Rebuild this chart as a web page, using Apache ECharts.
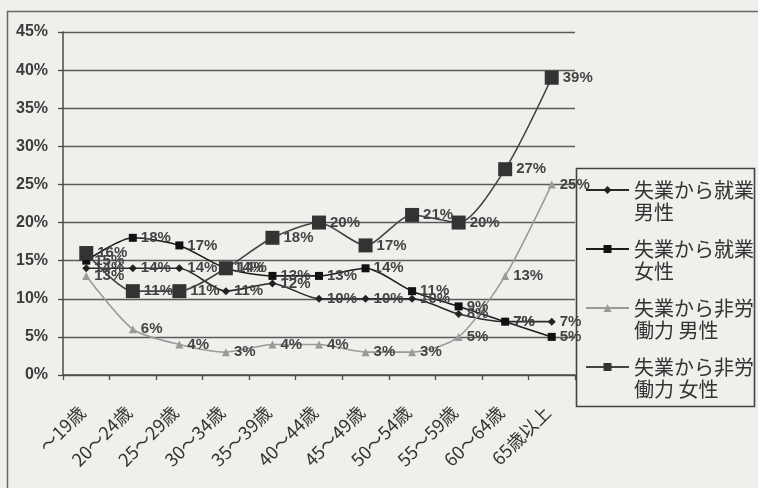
<!DOCTYPE html>
<html>
<head>
<meta charset="utf-8">
<style>
  html, body { margin: 0; padding: 0; background: #efefec; }
  #chart { width: 758px; height: 488px; }
</style>
<script src="https://cdn.jsdelivr.net/npm/echarts@6/dist/echarts.min.js"></script>
</head>
<body>
<div id="chart"></div>
<script>
// Age groups along the x axis
const categories = ['～19歳', '20～24歳', '25～29歳', '30～34歳', '35～39歳', '40～44歳',
  '45～49歳', '50～54歳', '55～59歳', '60～64歳', '65歳以上'];

// Series names as shown in the legend (wrapped onto two lines)
const seriesNames = ['失業から就業\n男性', '失業から就業\n女性', '失業から非労\n働力 男性', '失業から非労\n働力 女性'];

// Transition rates (%) by age group
const jobMale        = [14, 14, 14, 11, 12, 10, 10, 10, 8, 7, 7];
const jobFemale      = [15, 18, 17, 14, 13, 13, 14, 11, 9, 7, 5];
const nonLaborMale   = [13, 6, 4, 3, 4, 4, 3, 3, 5, 13, 25];
const nonLaborFemale = [16, 11, 11, 14, 18, 20, 17, 21, 20, 27, 39];

// Y axis range (%)
const yMin = 0, yMax = 45, yStep = 5;

const numFont = 'Liberation Sans, Arial, sans-serif';
const jpFont = '"Noto Sans CJK JP", sans-serif';

const labelStyle = {
  show: true,
  position: 'right',
  distance: 4,
  formatter: '{c}%',
  color: '#444',
  fontFamily: numFont,
  fontWeight: 'bold',
  fontSize: 15
};

function lineSeries(name, data, symbol, size, color, lineColor) {
  return {
    name: name,
    type: 'line',
    data: data,
    smooth: 0.25,
    symbol: symbol,
    symbolSize: size,
    itemStyle: { color: color },
    lineStyle: { color: lineColor, width: 1.6 },
    label: labelStyle,
    emphasis: { disabled: true },
    animation: false
  };
}

const chart = echarts.init(document.getElementById('chart'), null, { renderer: 'canvas' });

chart.setOption({
  backgroundColor: '#efefec',
  animation: false,
  grid: { left: 63, right: 183, top: 32, bottom: 113 },
  xAxis: {
    type: 'category',
    data: categories,
    boundaryGap: true,
    axisLine: { lineStyle: { color: '#4a4a4a', width: 1.5 } },
    axisTick: { show: true, length: 5, lineStyle: { color: '#4a4a4a', width: 1.3 } },
    axisLabel: {
      rotate: 45,
      margin: 30,
      padding: [0, 6, 0, 0],
      interval: 0,
      color: '#333',
      fontFamily: jpFont,
      fontSize: 18
    },
    splitLine: { show: false }
  },
  yAxis: {
    type: 'value',
    min: yMin,
    max: yMax,
    interval: yStep,
    axisLine: { show: true, lineStyle: { color: '#4a4a4a', width: 1.5 } },
    axisTick: { show: true, length: 5, lineStyle: { color: '#4a4a4a', width: 1.3 } },
    axisLabel: {
      formatter: '{value}%',
      margin: 15,
      color: '#3c3c3c',
      fontFamily: numFont,
      fontWeight: 'bold',
      fontSize: 16
    },
    splitLine: { show: true, lineStyle: { color: '#5a5a5a', width: 1.4 } }
  },
  legend: {
    orient: 'vertical',
    left: 585,
    top: 157,
    padding: 0,
    itemGap: -7,
    itemWidth: 43,
    itemHeight: 10,
    data: seriesNames,
    // a leading blank line keeps the icon level with the first text line
    formatter: function (name) { return '\n' + name; },
    textStyle: {
      color: '#333',
      fontFamily: jpFont,
      fontSize: 20,
      lineHeight: 22
    }
  },
  graphic: [
    {
      // outer frame of the chart
      type: 'rect',
      silent: true,
      shape: { x: 7.5, y: 11.5, width: 1000, height: 1000 },
      style: { fill: 'none', stroke: '#666', lineWidth: 1.5 }
    },
    {
      // legend frame
      type: 'rect',
      silent: true,
      shape: { x: 576.5, y: 168.5, width: 178, height: 238 },
      style: { fill: 'none', stroke: '#444', lineWidth: 1.6 }
    }
  ],
  series: [
    lineSeries(seriesNames[0], jobMale, 'diamond', 8, '#222', '#2a2a2a'),
    lineSeries(seriesNames[1], jobFemale, 'rect', 8, '#111', '#1c1c1c'),
    lineSeries(seriesNames[2], nonLaborMale, 'triangle', 8, '#9a9a9a', '#9a9a9a'),
    lineSeries(seriesNames[3], nonLaborFemale, 'rect', 14, '#333', '#444')
  ]
});
</script>
</body>
</html>
